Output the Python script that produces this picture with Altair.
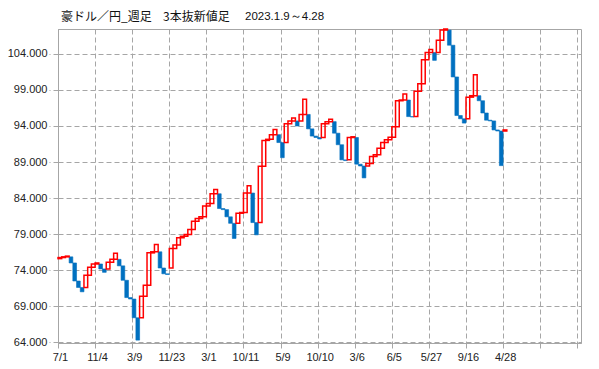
import altair as alt
import pandas as pd

# --- data ---
x_labels = ["7/1", "11/4", "3/9", "11/23", "3/1", "10/11", "5/9", "10/10",
            "3/6", "6/5", "5/27", "9/16", "4/28"]
y_ticks = [64, 69, 74, 79, 84, 89, 94, 99, 104]

opens = [75.6, 75.75, 75.85, 75.85, 75.0, 72.5, 71.6, 71.6, 73.3, 74.4,
         74.86, 74.86, 74.17, 74.17, 75.1, 75.5, 75.5, 74.6, 72.6, 70.2,
         70.0, 67.4, 67.4, 70.4, 71.9, 76.4, 76.55, 76.55, 74.3, 73.5,
         74.3, 77.0, 77.5, 78.5, 78.7, 78.95, 79.64, 80.8, 81.17, 81.4,
         82.9, 83.25, 84.6, 84.6, 82.55, 82.4, 81.4, 80.5, 80.5, 81.9,
         82.0, 84.7, 84.7, 80.6, 80.6, 88.4, 92.0, 92.15, 92.8, 92.8,
         91.7, 91.7, 94.3, 94.7, 94.7, 94.7, 95.6, 95.6, 93.6, 92.6,
         92.4, 92.4, 94.3, 94.6, 94.6, 93.0, 91.4, 89.3, 89.3, 92.4,
         92.4, 88.7, 88.45, 88.45, 88.8, 89.75, 90.0, 90.92, 91.7, 92.1,
         92.43, 93.9, 97.5, 97.6, 97.6, 95.3, 95.3, 98.8, 99.84, 103.2,
         104.2, 104.2, 104.2, 105.9, 107.3, 107.3, 105.2, 100.8, 95.45, 95.0,
         95.0, 98.0, 98.2, 98.2, 97.5, 95.8, 94.8, 94.7, 93.45, 93.3,
         93.3]
closes = [75.75, 75.85, 75.95, 75.0, 72.5, 71.6, 71.0, 73.3, 74.4, 74.86,
          75.0, 74.17, 73.7, 75.1, 75.5, 76.35, 74.6, 72.6, 70.2, 70.0,
          67.4, 64.3, 70.4, 71.9, 76.4, 76.55, 77.56, 74.3, 73.5, 73.4,
          77.0, 77.5, 78.5, 78.7, 78.95, 79.64, 80.8, 81.17, 81.4, 82.9,
          83.25, 84.6, 85.2, 82.55, 82.4, 81.4, 80.5, 78.4, 81.9, 82.0,
          84.7, 85.7, 80.6, 78.9, 88.4, 92.0, 92.15, 92.8, 93.5, 91.7,
          89.6, 94.3, 94.7, 95.1, 94.0, 95.6, 97.7, 93.6, 92.6, 92.4,
          92.2, 94.3, 94.6, 94.95, 93.0, 91.4, 89.3, 89.2, 92.4, 92.5,
          88.7, 88.45, 86.8, 88.8, 89.75, 90.0, 90.92, 91.7, 92.1, 92.43,
          93.9, 97.5, 97.6, 98.45, 95.3, 95.25, 98.8, 99.84, 103.2, 104.2,
          104.6, 103.1, 105.9, 107.3, 107.45, 105.2, 100.8, 95.45, 95.0, 94.4,
          98.0, 98.2, 101.1, 97.5, 95.8, 94.8, 94.7, 93.45, 93.3, 88.5,
          93.45]

n = len(opens)
df = pd.DataFrame({
    "s": list(range(n)),
    "e": [i + 1 for i in range(n)],
    "lo": [min(o, c) for o, c in zip(opens, closes)],
    "hi": [max(o, c) for o, c in zip(opens, closes)],
    "up": [c >= o for o, c in zip(opens, closes)],
})
up_df = df[df["up"]]
dn_df = df[~df["up"]]

GRID = "#a6a6a6"
label_arr = "[" + ",".join("'%s'" % l for l in x_labels) + "]"

xscale = alt.Scale(domain=[0, 141], nice=False, zero=False)
yscale = alt.Scale(domain=[63.9, 107.45], nice=False, zero=False)

xaxis = alt.Axis(values=list(range(0, 141, 10)), title=None, grid=True,
                 gridDash=[5, 3], gridColor=GRID, gridWidth=1,
                 domainColor=GRID, tickColor=GRID, tickSize=5,
                 labelExpr=label_arr + "[datum.value/10] || ''",
                 labelFlush=False, labelOverlap=False, labelPadding=3,
                 labelOffset=2,
                 labelFont="Liberation Sans", labelFontSize=11,
                 labelColor="#222222")
yaxis = alt.Axis(values=y_ticks, format=".3f", title=None, grid=True,
                 gridDash=[5, 3], gridColor=GRID, gridWidth=1,
                 domainColor=GRID, tickColor=GRID, tickSize=9,
                 tickDash=[5, 3], labelPadding=2, labelOverlap=False,
                 labelFont="Liberation Sans", labelFontSize=11,
                 labelColor="#222222")

blue = alt.Chart(dn_df).mark_rect(color="#0070C0", stroke="#0070C0",
                                  strokeWidth=0.6).encode(
    x=alt.X("s:Q", scale=xscale, axis=xaxis),
    x2="e:Q",
    y=alt.Y("lo:Q", scale=yscale, axis=yaxis),
    y2="hi:Q",
)

red = alt.Chart(up_df).mark_rect(fill="transparent", stroke="#FF0000",
                                 strokeWidth=1.5).encode(
    x=alt.X("s:Q", scale=xscale, axis=xaxis),
    x2="e:Q",
    y=alt.Y("lo:Q", scale=yscale, axis=yaxis),
    y2="hi:Q",
)

t1 = alt.Chart(pd.DataFrame({"t": ["豪ドル／円_週足"]})).mark_text(
    align="left", baseline="middle", font="Noto Sans CJK JP", fontSize=12,
    color="#111111").encode(x=alt.value(3), y=alt.value(-12), text="t:N")
t2 = alt.Chart(pd.DataFrame({"t": ["3本抜新値足"]})).mark_text(
    align="left", baseline="middle", font="Noto Sans CJK JP", fontSize=12,
    color="#111111").encode(x=alt.value(105), y=alt.value(-12), text="t:N")
t3 = alt.Chart(pd.DataFrame({"t": ["2023.1.9～4.28"]})).mark_text(
    align="left", baseline="middle", font="Liberation Sans", fontSize=11.5,
    color="#111111").encode(x=alt.value(187), y=alt.value(-12), text="t:N")

chart = alt.layer(blue, red, t1, t2, t3).properties(
    width=523, height=314,
    autosize=alt.AutoSizeParams(type="none"),
    padding={"left": 50, "top": 21, "right": 10, "bottom": 18},
).configure_view(stroke=GRID, strokeWidth=1)

chart.save("out.html", embed_options={"renderer": "svg", "actions": False})
